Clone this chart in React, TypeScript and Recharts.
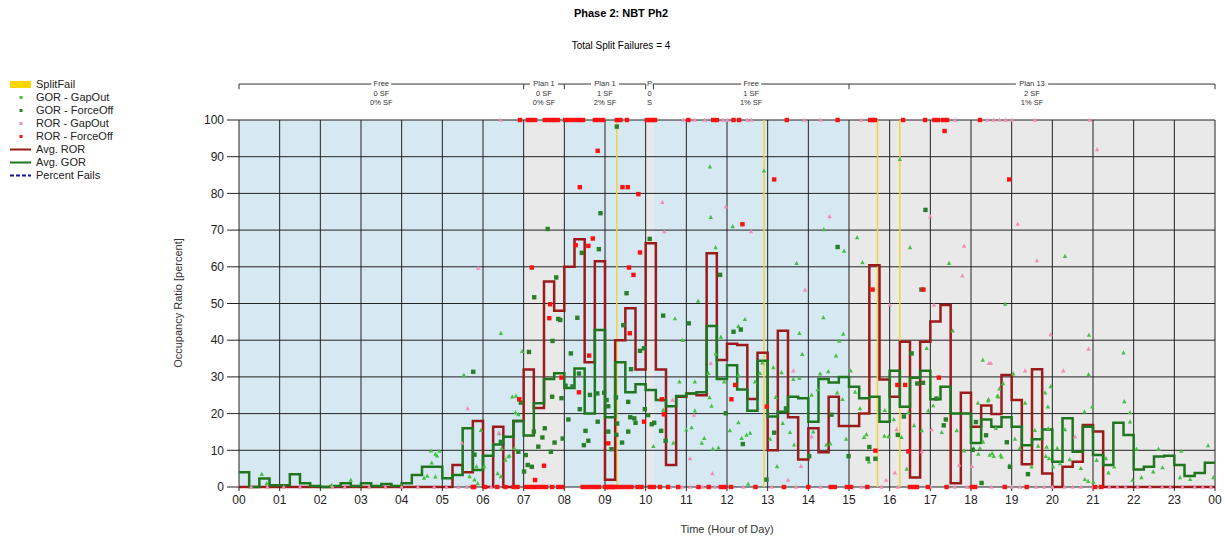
import React from "react";
import {
  ComposedChart,
  XAxis,
  YAxis,
  Line,
  Scatter,
  ReferenceArea,
  ReferenceLine,
} from "recharts";

// 15 minute bins, 00:00 -> 24:00
const avgRor = [
  0, 0, 0, 0, 0, 0, 0, 0, 0, 0, 0, 0, 0, 0, 0, 0, 0, 0, 0, 0, 0, 6, 4, 18,
  0, 16.4, 0, 18, 32, 21.5, 56, 48, 60, 67.5, 34, 61.5, 2, 40, 48.7, 32,
  66.4, 32, 6, 24.6, 25.5, 25, 63.7, 34.6, 39, 38.7, 24, 36.6, 10, 42.6, 19, 7.5,
  16, 9.5, 24.6, 16.6, 16.6, 20, 60.4, 29.3, 24.6, 39.6, 2.6, 39.6, 45.1, 49.6,
  1, 25.7, 16.4, 22.2, 19.9, 30.5, 23.7, 6.2, 32.1, 3.7, 0, 5.5, 6.9, 16.9,
  15.1, 0, 0, 0, 0, 0, 0, 0, 0, 0, 0, 0,
];

const avgGor = [
  4, 0, 2.3, 0.5, 0.5, 3.5, 1, 0.3, 0, 0.3, 1, 0.3, 1, 0.3, 0.8, 0.3, 1, 3.3,
  5.5, 5.5, 2.4, 3.3, 16, 4.6, 8.5, 11.6, 13.7, 18, 14, 22.8, 29.4, 31, 27,
  32.3, 20, 42.8, 19, 34, 25.8, 28, 26.4, 23.7, 22, 24.8, 25.5, 25.8, 43.9,
  29.4, 33.2, 26.6, 20.8, 34.4, 19.2, 20.5, 24.6, 24.2, 17.8, 29.4, 28.5, 30,
  27.3, 24.2, 24.6, 17.8, 31.7, 21.9, 29.8, 31.7, 23.9, 27.3, 20, 20, 12, 18.4,
  16.4, 19, 16.4, 11.4, 13, 15.7, 6.9, 18.7, 9.6, 16.4, 8.7, 6, 17.5, 14.2,
  4.8, 5.5, 8.3, 8.5, 6, 3, 3.8, 6.6,
];

const hourTicks = [
  0, 1, 2, 3, 4, 5, 6, 7, 8, 9, 10, 11, 12, 13, 14, 15, 16, 17, 18, 19, 20,
  21, 22, 23, 24,
];
const pctTicks = [0, 10, 20, 30, 40, 50, 60, 70, 80, 90, 100];

const splitFails = [9.29, 12.91, 15.7, 16.25];

const planStart = [0, 7, 8, 10, 10.19, 15];
const planEnd = [7, 8, 10, 10.19, 15, 24];
const planName = ["Free", "Plan 1", "Plan 1", "P", "Free", "Plan 13"];
const planSf = ["0 SF", "0 SF", "1 SF", "0", "1 SF", "2 SF"];
const planPct = ["0% SF", "0% SF", "2% SF", "S", "1% SF", "1% SF"];

// [hour, percent]
const gorGapOut = [
  [0.56, 3.5], [0.68, 1], [2.28, 0.5], [2.75, 1.9], [4.55, 2.5], [4.63, 3],
  [4.72, 9.9], [4.74, 6.6], [4.83, 9], [4.83, 2.8], [4.87, 8.5], [4.93, 9.8],
  [5.53, 30.5], [5.67, 2.9], [5.79, 2], [5.84, 5.6], [5.87, 1], [5.95, 15.5],
  [6.03, 5.6], [6.36, 3.7], [6.4, 14.6], [6.44, 41.9], [6.44, 2.9], [6.46, 10.6],
  [6.55, 7.4], [6.62, 8.3], [6.65, 8.5], [6.72, 24.6], [6.77, 10.6], [6.8, 20.3],
  [6.81, 24.8], [6.87, 19.8], [6.96, 37],
  [10.19, 11.1], [10.43, 21], [10.68, 12], [10.72, 45.9], [10.83, 28.7],
  [10.91, 40], [11, 15.6], [11.13, 16.2], [11.21, 28.7], [11.21, 20.8],
  [11.29, 50.7], [11.38, 12], [11.44, 13.3], [11.54, 31], [11.57, 24.4],
  [11.58, 87.3], [11.6, 73.5], [11.62, 22.1], [11.65, 10.4], [11.72, 65.3],
  [11.72, 36.3], [11.79, 10.7], [11.85, 40.9], [11.93, 28.7], [12.07, 15.4],
  [12.14, 71], [12.28, 43.8], [12.28, 30.5], [12.28, 17.6], [12.36, 13.3],
  [12.44, 45.7], [12.48, 14.2], [12.52, 0.8], [12.57, 14.7], [12.69, 28.7],
  [12.81, 31], [12.87, 33.9],
  [12.91, 86.2], [13.06, 13.1], [13.14, 32.6], [13.2, 24.5], [13.23, 5.6],
  [13.34, 31.2], [13.37, 17.4], [13.55, 14.9], [13.63, 29.4], [13.65, 11.5],
  [13.71, 61], [13.78, 41.9], [13.78, 29.7], [13.85, 36.2], [14.08, 25.1],
  [14.12, 15.1], [14.23, 26.6], [14.29, 30.9], [14.37, 46.2], [14.38, 70.2],
  [14.44, 11.5], [14.49, 31.5], [14.54, 11.8], [14.68, 35.8], [14.71, 25.7],
  [14.76, 39.8], [14.84, 23.9], [14.86, 41.7], [14.88, 64.3], [14.93, 13.1],
  [15.04, 31.7], [15.15, 25.9], [15.2, 68], [15.27, 21.4], [15.33, 61.2],
  [15.37, 13.6], [15.43, 14.3], [15.49, 6.9], [15.87, 13.9], [15.88, 20.9],
  [15.97, 13.8], [16.1, 18.4], [16.25, 89.3], [16.29, 13.6], [16.42, 4.9],
  [16.46, 20.3], [16.5, 65.3], [16.6, 16.8], [16.79, 15.4], [16.91, 37.8],
  [16.95, 20.8], [17.07, 22.2], [17.28, 14.9], [17.46, 61], [17.55, 42.6],
  [17.65, 15.4], [17.83, 9.9], [18.06, 10.6], [18.17, 22.9], [18.18, 9],
  [18.22, 10.6], [18.29, 34.6], [18.3, 12.3], [18.42, 23.5], [18.43, 23.9],
  [18.46, 8.7], [18.52, 9.2], [18.56, 8.4], [18.61, 16], [18.65, 24.8],
  [18.67, 24.6], [18.7, 26.8], [18.73, 8.7], [18.75, 8.2], [18.79, 28.2],
  [18.84, 49.9], [18.94, 5.8], [19.04, 30.9], [19.08, 13.1], [19.2, 10.6],
  [19.33, 22.9], [19.49, 5.5], [19.57, 15.5], [19.65, 11.2], [19.82, 25.7],
  [19.84, 8.4], [19.86, 10.9], [19.89, 21.9], [19.9, 16], [19.92, 7.8],
  [19.96, 27.4], [20.02, 5.5], [20.12, 10.6], [20.19, 6.4], [20.31, 62.9],
  [20.31, 15.7], [20.43, 7.5], [20.7, 5.1], [20.79, 20.5], [20.8, 2.1],
  [20.88, 1.6], [20.89, 30.7], [20.9, 41.4], [20.98, 21.9], [21.01, 1.4],
  [21.09, 7.3], [21.32, 7.8], [21.38, 3.9], [21.52, 5.5], [21.75, 36.6],
  [21.77, 23.3], [21.91, 20.3], [21.91, 17.8], [21.97, 1.9], [22.07, 10.4],
  [22.19, 2.6], [22.48, 4.2], [22.61, 10.4], [22.71, 5.3], [23.14, 2.6],
  [23.17, 9.8], [23.39, 2.1], [23.83, 11.3], [23.96, 2.6],
];

const gorForceOff = [
  [5.76, 31.4], [5.79, 8.8], [6.44, 12.3], [6.87, 9.6], [6.93, 23], [7.1, 6],
  [7.01, 4.2], [7.05, 8.7], [7.13, 36.8], [7.2, 5.5], [7.25, 15.1], [7.26, 51.7],
  [7.36, 11], [7.46, 13.5], [7.52, 16], [7.59, 70.3], [7.67, 9.6], [7.7, 24.6],
  [7.71, 39.8], [7.76, 12.1], [7.8, 57.1], [7.85, 45.8], [7.9, 45.5],
  [7.93, 24.2], [7.96, 13.2], [8.03, 27.6], [8.1, 18.4], [8.16, 36.4],
  [8.2, 27.4], [8.32, 46.1], [8.36, 30.9], [8.38, 21.2], [8.43, 63.8],
  [8.48, 11.4], [8.52, 15.3], [8.59, 12.6], [8.63, 25.1], [8.81, 25.5],
  [8.82, 17.8], [8.85, 64.8], [8.89, 74.6], [8.98, 25.7], [9.04, 23.7],
  [9.08, 22], [9.08, 15.1], [9.16, 10.3], [9.27, 24.4], [9.28, 14.2],
  [9.29, 98.2], [9.3, 17.3], [9.42, 12.1], [9.45, 44.1], [9.53, 52.8],
  [9.57, 23.2], [9.57, 15.1], [9.62, 19], [9.64, 32.1], [9.72, 18.7],
  [9.75, 17.5], [9.86, 37.1], [9.96, 37.8], [9.98, 21.2], [10.06, 19.6],
  [10.1, 67.6], [10.15, 17.1], [10.21, 17.5], [10.38, 15.3], [10.43, 46.7],
  [10.49, 12.6], [11.06, 44.6], [11.83, 57.8], [11.97, 20.1], [12.16, 42.3],
  [12.34, 42.9], [12.39, 11.7], [12.97, 2], [13.16, 14.8], [13.45, 21.4],
  [14.02, 8.4], [14.57, 19.7], [14.72, 65.4], [14.99, 8.4], [15.46, 7.7],
  [15.5, 10.9], [15.65, 7.7], [16.2, 14.2], [16.35, 19.2], [16.54, 36.4],
  [16.68, 28.2], [16.78, 53.8], [16.82, 28.4], [16.88, 75.5], [17.15, 24.1],
  [17.33, 16.8], [17.38, 18.4], [18.04, 10.1], [18.12, 17.7], [18.26, 1.1],
  [18.37, 14.1], [18.88, 12.2], [18.96, 5.5], [19.4, 3.5],
];

const rorGapOut = [
  [5.48, 12], [5.62, 21.4], [5.88, 59.7], [6.39, 14.8], [10.41, 77.6],
  [10.46, 69.6], [10.66, 23.7], [11.09, 7.8], [11.19, 19.6], [11.6, 33.7],
  [11.64, 3.7], [11.97, 76.4], [12.59, 69.6], [13.5, 1.9], [13.63, 31.7],
  [13.82, 5.7], [13.92, 53.7], [14.08, 13.7], [14.52, 73.7], [15.91, 1.9],
  [16, 49.6], [16.13, 3.9], [16.17, 15.7], [16.79, 9.7], [17, 73.7],
  [17.03, 15.7], [17.09, 49.6], [17.71, 6], [17.79, 57.6], [17.83, 65.7],
  [18.02, 5.7], [18.44, 33.7], [18.49, 33.7], [19.15, 71.7], [19.33, 31.7],
  [19.62, 61.7], [19.96, 41.6], [20.27, 31.7], [20.56, 13.7], [20.89, 37.6],
  [21.1, 92],
];

const rorForceOff = [
  [6.89, 23.9], [7.2, 59.8], [7.28, 1.9], [7.5, 5.8], [7.63, 46], [7.65, 49.8],
  [7.93, 29.8], [8.28, 65.9], [8.36, 25.8], [8.38, 81.7], [8.59, 65.7],
  [8.61, 35.8], [8.7, 67.7], [8.82, 91.6], [9.08, 11.9], [9.43, 81.7],
  [9.56, 81.7], [9.59, 59.8], [9.61, 41.9], [9.7, 57.8], [9.82, 79.8],
  [9.86, 63.9], [9.96, 17.8], [10.4, 23.9], [10.45, 19.8], [12.11, 23.9],
  [12.2, 27.8], [12.38, 71.6], [12.98, 21.9], [13.16, 83.8], [15.58, 53.8],
  [15.65, 9.9], [16.19, 27.8], [16.38, 27.8], [16.46, 9.7], [16.83, 53.8],
  [17.21, 29.8], [17.35, 97], [18.94, 83.8],
];

// hours of cycles sitting on 0 % and 100 %
const rorForceOffAt100 = [
  6.91, 7.1, 7.18, 7.28, 7.52, 7.6, 7.68, 7.76, 7.84, 8.02, 8.1, 8.2, 8.3,
  8.38, 8.46, 8.75, 8.85, 8.95, 9.29, 9.38, 9.54, 10.03, 10.1, 10.18, 10.23,
  11.05, 11.66, 11.75, 12.16, 12.3, 13.47, 14.72, 15.52, 15.58, 15.64, 16.33,
  16.87, 17.1, 17.19, 17.31, 17.41, 18.22,
];
const rorGapOutAt100 = [
  6.43, 10.93, 11.2, 11.45, 11.9, 12.0, 12.5, 12.6, 13.9, 14.3, 15.3, 17.6,
  18.4, 18.55, 18.7, 18.85, 19.0, 19.57, 20.92,
];
const rorForceOffAt0 = [
  5.75, 5.78, 6.05, 6.35, 6.55, 6.75, 6.85, 7.05, 7.15, 7.25, 7.35, 7.45,
  7.55, 7.7, 7.85, 7.95, 8.45, 8.55, 8.65, 8.75, 8.85, 9.0, 9.05, 9.1, 9.15,
  9.2, 9.25, 9.35, 9.45, 9.55, 9.65, 9.8, 9.9, 10.1, 10.2, 10.35, 10.55, 10.8,
  11.3, 11.55, 11.85, 11.95, 12.1, 12.7, 13.4, 14.0, 14.55, 14.65, 14.95,
  15.05, 15.45, 16.5, 16.6, 16.67, 16.94, 17.4, 18.02, 18.1, 18.83, 19.37,
  21.05, 21.2,
];
const rorGapOutAt0 = [
  0.3, 0.7, 1.1, 1.5, 2.3, 2.6, 3.2, 3.6, 4.0, 4.4, 4.8, 5.1, 5.4, 5.6, 6.2,
  10.6, 10.9, 11.1, 11.4, 11.7, 12.4, 13.1, 13.7, 14.3, 15.3, 15.8, 16.2, 17.0,
  17.6, 17.9, 18.5, 19.0, 19.2, 19.6, 19.8, 20.0, 20.3, 20.5, 20.7, 21.0, 21.4,
  21.6, 21.8, 22.1, 22.4, 22.7, 22.9, 23.2, 23.5, 23.7, 23.9,
];

const C_BLUE = "#d6e9f2";
const C_GRAY = "#e9e9e9";
const C_GRID = "#222";
const C_ROR = "#9b1b1b";
const C_GOR = "#1f761f";
const C_GOR_GAP = "#45c045";
const C_GOR_FO = "#2a7f2a";
const C_ROR_GAP = "#f48cb4";
const C_ROR_FO = "#ff1010";
const C_SF = "#f2d43a";
const FONT = "'Liberation Sans', Arial, sans-serif";

const toSteps = (vals: number[]) =>
  vals.map((v, i) => ({ h: i / 4, v })).concat([{ h: 24, v: vals[vals.length - 1] }]);

const toPts = (pairs: number[][]) => pairs.map(([h, v]) => ({ h, v }));
const atLevel = (hours: number[], v: number) => hours.map((h) => ({ h, v }));

const square = (color: string) => (p: any) => (
  <rect x={p.cx - 2.2} y={p.cy - 2.2} width={4.4} height={4.4} fill={color} />
);
const triangle = (color: string) => (p: any) => (
  <polygon
    points={`${p.cx},${p.cy - 2.4} ${p.cx - 2.2},${p.cy + 1.8} ${p.cx + 2.2},${p.cy + 1.8}`}
    fill={color}
  />
);

const planLabel = (i: number) => (props: any) => {
  const vb = props.viewBox || {};
  const cx = vb.x + vb.width / 2;
  const y = vb.y;
  const w = planName[i].length * 4 + 4;
  return (
    <g fontFamily={FONT} fontSize={7.5} fill="#333" textAnchor="middle">
      <rect x={cx - w / 2} y={y - 4} width={w} height={8} fill="#fff" />
      <text x={cx} y={y + 2}>{planName[i]}</text>
      <text x={cx} y={y + 11.5}>{planSf[i]}</text>
      <text x={cx} y={y + 20.5}>{planPct[i]}</text>
    </g>
  );
};

const legendRows = [
  { label: "SplitFail", kind: "box", color: "#ffd700" },
  { label: "GOR - GapOut", kind: "dot", color: C_GOR_GAP },
  { label: "GOR - ForceOff", kind: "dot", color: C_GOR_FO },
  { label: "ROR - GapOut", kind: "dot", color: C_ROR_GAP },
  { label: "ROR - ForceOff", kind: "dot", color: C_ROR_FO },
  { label: "Avg. ROR", kind: "line", color: C_ROR },
  { label: "Avg. GOR", kind: "line", color: C_GOR },
  { label: "Percent Fails", kind: "dash", color: "#1010a0" },
];

function Legend() {
  return (
    <div style={{ position: "absolute", left: 10, top: 77, fontFamily: FONT, fontSize: 11 }}>
      {legendRows.map((r) => (
        <div key={r.label} style={{ display: "flex", alignItems: "center", height: 13 }}>
          <svg width={24} height={12} style={{ marginRight: 2 }}>
            {r.kind === "box" && <rect x={0} y={3} width={21} height={7} fill={r.color} />}
            {r.kind === "dot" && <rect x={9.5} y={5} width={3} height={3} fill={r.color} />}
            {r.kind === "line" && <line x1={0} x2={21} y1={6.5} y2={6.5} stroke={r.color} strokeWidth={2} />}
            {r.kind === "dash" && (
              <line x1={0} x2={21} y1={6.5} y2={6.5} stroke={r.color} strokeWidth={2} strokeDasharray="4 2" />
            )}
          </svg>
          <span style={{ color: "#222" }}>{r.label}</span>
        </div>
      ))}
    </div>
  );
}

export default function App() {
  const bracketY = 109.8;
  const tickY = 108.4;
  return (
    <div style={{ position: "relative", width: 1225, height: 538, background: "#fff", fontFamily: FONT }}>
      <style>{`body{margin:0}`}</style>
      <div style={{ position: "absolute", left: 0, width: 1242, top: 7, textAlign: "center", fontSize: 11, fontWeight: "bold" }}>
        Phase 2: NBT Ph2
      </div>
      <div style={{ position: "absolute", left: 0, width: 1242, top: 40, textAlign: "center", fontSize: 10 }}>
        Total Split Failures = 4
      </div>
      <Legend />
      <div
        style={{
          position: "absolute",
          left: 178,
          top: 303,
          transform: "translate(-50%, -50%) rotate(-90deg)",
          whiteSpace: "nowrap",
          fontSize: 11,
          color: "#333",
        }}
      >
        Occupancy Ratio [percent]
      </div>
      <ComposedChart width={1225} height={538} margin={{ top: 120, right: 10, bottom: 0, left: 179 }}>
        <XAxis
          type="number"
          dataKey="h"
          domain={[0, 24]}
          ticks={hourTicks}
          interval={0}
          tickFormatter={(h: number) => String(h % 24).padStart(2, "0")}
          tick={{ fontSize: 12, fill: "#222", fontFamily: FONT }}
          tickSize={4}
          tickMargin={4}
          tickLine={{ stroke: C_GRID }}
          axisLine={false}
          height={51}
          label={{ value: "Time (Hour of Day)", position: "insideBottom", offset: 5, fontSize: 11, fill: "#333" }}
        />
        <YAxis
          type="number"
          dataKey="v"
          domain={[0, 100]}
          ticks={pctTicks}
          interval={0}
          tick={{ fontSize: 12, fill: "#222", fontFamily: FONT }}
          tickSize={12}
          tickMargin={3}
          tickLine={{ stroke: C_GRID }}
          axisLine={false}
          width={60}
        />
        {planStart.map((s, i) => (
          <ReferenceArea
            key={"band" + i}
            x1={s}
            x2={planEnd[i]}
            y1={0}
            y2={100}
            fill={i % 2 === 0 ? C_BLUE : C_GRAY}
            fillOpacity={1}
            stroke="none"
          />
        ))}
        {hourTicks.map((h) => (
          <ReferenceLine key={"gx" + h} x={h} stroke={C_GRID} strokeWidth={1} />
        ))}
        {pctTicks.map((v) => (
          <ReferenceLine key={"gy" + v} y={v} stroke={C_GRID} strokeWidth={1} />
        ))}
        {planStart.map((s, i) => (
          <ReferenceLine
            key={"br" + i}
            segment={[
              { x: s, y: bracketY },
              { x: planEnd[i], y: bracketY },
            ]}
            ifOverflow="visible"
            stroke="#333"
            strokeWidth={1}
            label={planLabel(i)}
          />
        ))}
        {planStart.concat([24]).map((s, i) => (
          <ReferenceLine
            key={"bt" + i}
            segment={[
              { x: s, y: bracketY },
              { x: s, y: tickY },
            ]}
            ifOverflow="visible"
            stroke="#333"
            strokeWidth={1}
          />
        ))}
        <Scatter data={toPts(gorGapOut)} shape={triangle(C_GOR_GAP)} isAnimationActive={false} />
        <Scatter data={toPts(gorForceOff)} shape={square(C_GOR_FO)} isAnimationActive={false} />
        <Scatter
          data={toPts(rorGapOut).concat(atLevel(rorGapOutAt0, 0), atLevel(rorGapOutAt100, 100))}
          shape={triangle(C_ROR_GAP)}
          isAnimationActive={false}
        />
        <Scatter
          data={toPts(rorForceOff).concat(atLevel(rorForceOffAt0, 0), atLevel(rorForceOffAt100, 100))}
          shape={square(C_ROR_FO)}
          isAnimationActive={false}
        />
        {splitFails.map((h) => (
          <ReferenceLine key={"sf" + h} x={h} stroke={C_SF} strokeWidth={1.5} />
        ))}
        <Line
          data={toSteps(avgRor)}
          dataKey="v"
          type="stepAfter"
          stroke={C_ROR}
          strokeWidth={2.5}
          dot={false}
          isAnimationActive={false}
        />
        <Line
          data={toSteps(avgGor)}
          dataKey="v"
          type="stepAfter"
          stroke={C_GOR}
          strokeWidth={2.5}
          dot={false}
          isAnimationActive={false}
        />
      </ComposedChart>
    </div>
  );
}
